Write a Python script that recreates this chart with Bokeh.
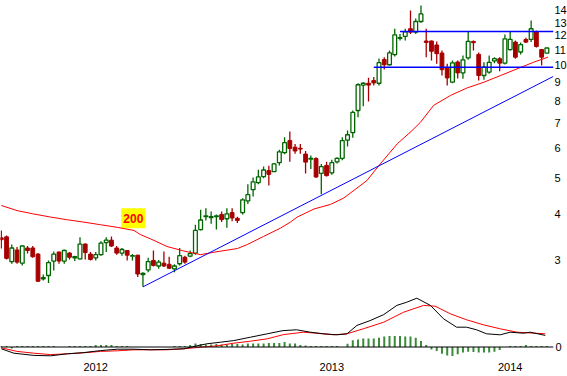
from bokeh.plotting import figure
from bokeh.layouts import column
from bokeh.models import FixedTicker, PrintfTickFormatter, Range1d, Span
from bokeh.embed import file_html
from bokeh.resources import INLINE
from bokeh.core.properties import value

# ---------------- data (weekly candles, index 0..104) ----------------
opens = [3.45, 3.47, 2.98, 3.20, 2.95, 3.24, 3.24, 3.12, 2.68, 2.735,
         2.99, 3.16, 2.99, 3.14, 3.05, 3.03, 3.32, 3.12, 3.05, 3.11,
         3.35, 3.40, 3.24, 3.14, 3.19, 3.08, 3.10, 2.75, 2.83, 3.00,
         2.90, 2.95, 2.93, 2.85, 2.94, 3.06, 3.08, 3.14, 3.63, 3.93,
         3.91, 3.93, 3.98, 3.88, 4.03, 3.89, 4.03, 4.33, 4.64, 4.85,
         5.03, 5.22, 5.19, 5.48, 5.83, 6.28, 6.03, 5.99, 5.78, 5.60,
         5.62, 5.13, 5.39, 5.15, 5.51, 5.63, 6.30, 6.60, 7.56, 8.84,
         8.94, 9.09, 8.94, 10.35, 10.02, 10.66, 11.80, 11.94, 12.51, 12.25,
         13.08, 11.60, 11.60, 11.32, 10.77, 9.86, 9.00, 10.19, 9.53, 10.45,
         11.57, 10.68, 9.38, 9.58, 10.26, 10.40, 10.12, 11.00, 11.52, 10.84,
         11.71, 11.71, 12.27, 11.01, 10.76]
highs = [3.61, 3.50, 3.31, 3.26, 3.29, 3.28, 3.28, 3.14, 2.75, 3.00,
         3.17, 3.17, 3.21, 3.16, 3.09, 3.46, 3.33, 3.16, 3.16, 3.38,
         3.46, 3.48, 3.28, 3.24, 3.20, 3.12, 3.11, 2.79, 3.05, 3.19,
         3.01, 3.17, 3.07, 2.93, 3.24, 3.09, 3.19, 3.74, 4.10, 4.14,
         4.06, 3.98, 4.06, 4.14, 4.14, 3.93, 4.40, 4.80, 5.00, 5.25,
         5.35, 5.38, 5.47, 5.94, 6.41, 6.64, 6.15, 6.15, 5.89, 5.73,
         5.67, 5.44, 5.51, 5.58, 5.67, 6.41, 6.68, 7.56, 8.94, 9.00,
         9.25, 9.29, 10.41, 10.50, 10.94, 12.51, 12.12, 12.51, 14.00, 13.33,
         14.44, 12.51, 11.64, 11.57, 10.94, 10.09, 10.29, 10.29, 10.61, 12.30,
         11.64, 10.81, 10.18, 10.61, 10.50, 10.50, 12.07, 12.27, 11.64, 11.50,
         11.83, 13.16, 12.38, 11.05, 11.11]
lows = [3.23, 3.02, 2.94, 2.94, 2.91, 3.13, 3.05, 2.63, 2.65, 2.61,
        2.82, 2.94, 2.94, 3.02, 2.99, 3.02, 3.02, 3.00, 3.00, 3.09,
        3.16, 3.26, 3.11, 3.09, 3.00, 3.00, 2.71, 2.55, 2.79, 2.89,
        2.85, 2.88, 2.85, 2.79, 2.91, 2.94, 3.06, 3.11, 3.61, 3.84,
        3.76, 3.63, 3.80, 3.67, 3.82, 3.78, 3.98, 4.25, 4.45, 4.80,
        4.98, 4.76, 5.18, 5.39, 5.77, 5.51, 5.79, 5.79, 5.13, 5.27,
        4.99, 4.51, 5.03, 5.09, 5.45, 5.56, 6.06, 6.39, 7.25, 7.76,
        7.99, 8.82, 8.82, 9.73, 9.98, 10.55, 11.64, 11.64, 12.12, 12.12,
        12.99, 10.50, 10.29, 10.09, 9.38, 8.82, 8.94, 9.20, 9.19, 10.33,
        10.94, 9.09, 9.13, 9.48, 10.11, 9.63, 10.04, 10.94, 10.40, 10.68,
        11.46, 11.52, 11.14, 9.98, 10.76]
closes = [3.41, 3.04, 3.24, 2.97, 3.28, 3.19, 3.07, 2.64, 2.70, 2.96,
          3.12, 2.99, 3.19, 3.06, 3.07, 3.32, 3.15, 3.02, 3.11, 3.34,
          3.40, 3.28, 3.14, 3.21, 3.10, 3.09, 2.76, 2.77, 2.98, 2.91,
          2.97, 2.90, 2.86, 2.90, 3.09, 2.97, 3.13, 3.61, 3.85, 3.95,
          3.93, 3.95, 3.86, 4.00, 3.90, 3.84, 4.36, 4.50, 4.87, 5.02,
          5.24, 5.10, 5.44, 5.86, 6.20, 5.98, 5.89, 5.96, 5.50, 5.63,
          5.02, 5.35, 5.06, 5.48, 5.63, 6.28, 6.51, 7.47, 8.86, 8.94,
          8.84, 8.96, 10.15, 10.02, 10.78, 12.05, 11.85, 12.28, 12.25, 13.08,
          13.71, 11.50, 10.89, 10.73, 9.72, 9.24, 10.14, 9.53, 10.33, 11.57,
          11.48, 9.38, 9.87, 10.17, 10.40, 10.12, 11.76, 11.71, 10.50, 11.35,
          11.52, 12.51, 11.21, 10.50, 11.11]

# 200-day moving average (read points: bar index, price)
ma_x = [0, 3, 6, 9.4, 12.6, 15.7, 18.9, 22.1, 25.3, 26.5, 28.4, 31.6, 34.8, 38,
        40.7, 45, 46.9, 50, 53.2, 55.1, 56.4, 59.6, 62.8, 65.3, 67.2, 69.7, 72,
        75.5, 78.3, 79.9, 82.4, 85.6, 88.8, 92, 95.2, 98.3, 101.5, 104.2]
ma_y = [4.21, 4.08, 4.00, 3.92, 3.855, 3.80, 3.74, 3.68, 3.61, 3.52, 3.43, 3.27,
        3.18, 3.11, 3.16, 3.23, 3.31, 3.48, 3.66, 3.80, 3.92, 4.12, 4.24, 4.41,
        4.62, 4.91, 5.39, 6.16, 6.68, 7.03, 7.80, 8.29, 8.69, 9.00, 9.38, 9.77,
        10.18, 10.5]

# trend line and horizontal levels
trend_x = [27, 105.2]
trend_y = [2.55, 9.32]
resist_start, resist_level = 76.0, 12.3
support_start, support_level = 71.0, 9.87
ma_label = "200"
ma_label_x, ma_label_y = 25.17, 3.89

# MACD panel
macd_x = [0, 2.4, 6.2, 9.4, 12.6, 15.7, 18.9, 22.1, 25.3, 28.5, 31.6, 34.8, 37.3,
          39.2, 41.8, 44.3, 47.5, 50.7, 53.7, 56.3, 58.9, 61.4, 64.0, 65.9, 67.8,
          70.3, 72.9, 75.4, 77.3, 79.2, 81.8, 84.3, 86.8, 88.7, 90.6, 92.5, 95.1,
          97.0, 99.5, 100.8, 103.7]
macd_y = [-0.045, -0.155, -0.21, -0.22, -0.17, -0.14, -0.09, -0.055, -0.055,
          -0.07, -0.06, -0.045, 0.03, 0.08, 0.12, 0.16, 0.245, 0.33, 0.41, 0.43,
          0.37, 0.33, 0.305, 0.33, 0.54, 0.66, 0.81, 1.04, 1.12, 1.22, 1.04,
          0.705, 0.495, 0.495, 0.43, 0.33, 0.305, 0.37, 0.345, 0.37, 0.29]
signal_x = [0, 3.0, 6.2, 9.4, 12.6, 15.7, 18.9, 22.1, 25.3, 31.6, 34.8, 38.0,
            41.2, 44.3, 47.5, 50.7, 53.8, 57.6, 60.1, 63.3, 65.9, 69.0, 72.9,
            76.7, 80.5, 82.7, 85.6, 88.7, 91.9, 95.1, 98.3, 103.7]
signal_y = [-0.02, -0.11, -0.155, -0.19, -0.17, -0.145, -0.11, -0.095, -0.07,
            -0.07, -0.045, -0.005, 0.03, 0.095, 0.145, 0.205, 0.31, 0.37, 0.345,
            0.305, 0.33, 0.455, 0.62, 0.87, 1.04, 1.02, 0.83, 0.68, 0.555, 0.455,
            0.37, 0.33]
hist = [0.025, 0.025, -0.04, 0.025, 0.025, 0.025, 0.025, 0.025, 0.025, 0.025, 0.025,
        0, 0,
        0.025, 0.025, 0.025, 0.025, 0.025, 0.05, 0.05, 0.05, 0.05, 0.025, 0.025, 0.025,
        0, 0, 0, 0, 0, 0, 0, 0,
        0.025, 0.025, 0.025, 0.05, 0.09, 0.075, 0.06, 0.06, 0.075, 0.06, 0.06, 0.075,
        0.075, 0.06, 0.09, 0.09, 0.09, 0.09, 0.1, 0.1, 0.1,
        0.125, 0.09, 0.09, 0.05, 0.04, 0.025, 0.025, 0.025, 0.025, 0.025, 0.025, 0,
        0.08, 0.17, 0.19, 0.21, 0.21, 0.21, 0.23, 0.26, 0.275, 0.275, 0.275, 0.26,
        0.26, 0.23, 0.15, 0.05,
        -0.06, -0.1, -0.17, -0.21, -0.225, -0.18, -0.14, -0.12, -0.125, -0.14, -0.14,
        -0.14, -0.12, -0.075, 0,
        0.025, 0.025, 0.025, 0.05, 0.025, 0.025, 0.025, 0.025]

price_ticks = [3, 4, 5, 6, 7, 8, 9, 10, 11, 12, 13, 14]
year_ticks = [18, 63, 97]
year_labels = ["2012", "2013", "2014"]

# ---------------- styling / layout ----------------
GREEN = "#006600"
RED = "#a80000"
HGREEN = "#3a8a3a"
FONT = "Liberation Sans"
FRAME_W = 553
BAR_PX = 5.246
X_START = -0.8 / BAR_PX
X_END = X_START + FRAME_W / BAR_PX

n = len(opens)
idx = list(range(n))
up = [i for i in idx if closes[i] >= opens[i]]
dn = [i for i in idx if closes[i] < opens[i]]

p = figure(frame_width=FRAME_W, frame_height=292, y_axis_type="log",
           x_range=Range1d(X_START, X_END), y_range=Range1d(2.463, 14.888),
           x_axis_location=None, y_axis_location="right",
           output_backend="svg", toolbar_location=None,
           min_border_left=0, min_border_right=0, min_border_top=0, min_border_bottom=0,
           outline_line_color=None)
p.grid.visible = False
ya = p.yaxis[0]
ya.ticker = FixedTicker(ticks=price_ticks, minor_ticks=[])
ya.formatter = PrintfTickFormatter(format="%d")
ya.axis_line_color = None
ya.major_tick_line_color = None
ya.minor_tick_line_color = None
ya.major_tick_out = 0
ya.major_tick_in = 0
ya.major_label_standoff = 1
ya.major_label_text_font = FONT
ya.major_label_text_font_size = "11px"
ya.major_label_text_color = "black"

# label "200"
p.quad(left=[22.86], right=[27.49], bottom=[3.66], top=[4.14],
       fill_color="#ffff00", line_color=None)
p.text(x=[ma_label_x], y=[ma_label_y], text=[ma_label], text_color="#ff0000",
       text_font=value(FONT), text_font_style="bold", text_font_size="12px",
       text_align="center", text_baseline="middle")

# candles
p.segment(x0=up, x1=up, y0=[lows[i] for i in up], y1=[highs[i] for i in up],
          line_color=GREEN, line_width=1.3)
p.segment(x0=dn, x1=dn, y0=[lows[i] for i in dn], y1=[highs[i] for i in dn],
          line_color=RED, line_width=1.3)
p.vbar(x=up, width=0.72, bottom=[opens[i] for i in up], top=[closes[i] for i in up],
       fill_color="white", line_color=GREEN, line_width=1.3)
p.vbar(x=dn, width=0.72, bottom=[closes[i] for i in dn], top=[opens[i] for i in dn],
       fill_color=RED, line_color=RED, line_width=1)

# moving average, trend line, levels
p.line(ma_x, ma_y, line_color="#ff0000", line_width=1)
p.line(trend_x, trend_y, line_color="#0000ff", line_width=1)
p.segment(x0=[resist_start, support_start], x1=[X_END, X_END],
          y0=[resist_level, support_level], y1=[resist_level, support_level],
          line_color="#0000ff", line_width=1.6)

# MACD panel
m = figure(frame_width=FRAME_W, frame_height=66,
           x_range=p.x_range, y_range=Range1d(-0.2875, 1.3625),
           y_axis_location="right", output_backend="svg", toolbar_location=None,
           min_border_left=0, min_border_right=0, min_border_top=0, min_border_bottom=0,
           outline_line_color=None)
m.grid.visible = False
m.add_layout(Span(location=0, dimension="width", line_color="black", line_width=1))
m.vbar(x=idx, width=0.38, bottom=0, top=hist, fill_color=HGREEN, line_color=None)
m.line(signal_x, signal_y, line_color="#ff0000", line_width=1)
m.line(macd_x, macd_y, line_color="black", line_width=1)

my = m.yaxis[0]
my.ticker = FixedTicker(ticks=[0], minor_ticks=[])
my.axis_line_color = None
my.major_tick_line_color = None
my.major_tick_out = 0
my.major_tick_in = 0
my.major_label_standoff = 2
my.major_label_text_font = FONT
my.major_label_text_font_size = "11px"
my.major_label_text_color = "black"

mx = m.xaxis[0]
mx.ticker = FixedTicker(ticks=year_ticks, minor_ticks=[])
mx.major_label_overrides = {t: lab for t, lab in zip(year_ticks, year_labels)}
mx.axis_line_color = None
mx.major_tick_line_color = None
mx.minor_tick_line_color = None
mx.major_tick_out = 0
mx.major_tick_in = 0
mx.major_label_standoff = 4
mx.major_label_text_font = FONT
mx.major_label_text_font_size = "11px"
mx.major_label_text_color = "black"

layout = column(p, m, spacing=0)
open("out.html", "w").write(file_html(layout, INLINE))
